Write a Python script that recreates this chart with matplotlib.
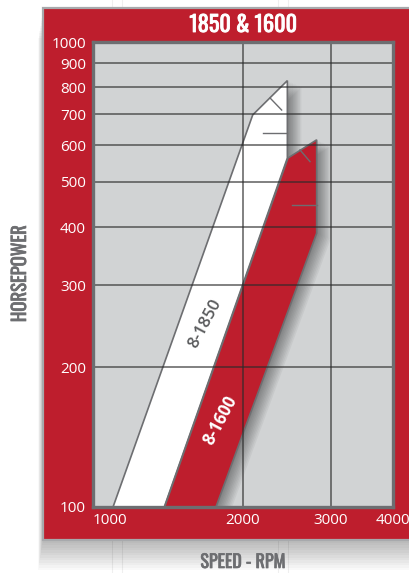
import matplotlib
matplotlib.use("Agg")
import matplotlib.pyplot as plt
from matplotlib import font_manager
from matplotlib import patheffects as pe
from matplotlib.patches import Rectangle
from matplotlib.lines import Line2D
from matplotlib.ticker import NullLocator
from matplotlib.transforms import offset_copy

# values (rpm / horsepower)
rpm_ticks = [1000, 2000, 3000, 4000]
rpm_grid = [2000, 3000]
hp_ticks = [100, 200, 300, 400, 500, 600, 700, 800, 900, 1000]

# outline of the 8-1850 band
band_1850_rpm = [1097, 2092, 2455, 2455, 1390]
band_1850_hp = [100, 697, 826, 563, 100]

# outline of the 8-1600 band
band_1600_rpm = [1392, 2462, 2811, 2811, 1765]
band_1600_hp = [100, 563, 616, 388, 100]

# little fold marks inside the bands
marks_rpm = [(2266, 2391), (2193, 2455), (2603, 2726), (2505, 2811)]
marks_hp = [(758, 714), (638, 638), (586, 553), (446, 446)]

label_1850 = ("8-1850", 1678, 248)
label_1600 = ("8-1600", 1798, 154)

RED = "#be1e2d"
PLOT_BG = "#d1d3d4"
DARK = "#6d6e71"

avail = {f.name for f in font_manager.fontManager.ttflist}
narrow = next(f for f in ["Oswald", "Barlow Condensed", "Asap Condensed",
                          "Archivo Narrow", "DejaVu Sans"] if f in avail)
body = "Open Sans" if "Open Sans" in avail else "DejaVu Sans"

W, H = 409, 573
fig = plt.figure(figsize=(W / 100, H / 100), dpi=100)


def fx(px):
    return px / W


def fy(py):
    return 1 - py / H


def heavy(color, w=0.5):
    # thicken the condensed face a little, like the bold headings
    return [pe.withStroke(linewidth=w, foreground=color)]


# faint page lines behind everything
for px in [112, 122, 278, 288]:
    fig.add_artist(Line2D([fx(px), fx(px)], [0, 1], transform=fig.transFigure,
                          color="#efefef", lw=0.8, zorder=-10))

# soft shadow under the red frame
for i in range(1, 13):
    fig.add_artist(Rectangle((fx(43 - i * 0.4), fy(540 + i * 2.5)),
                             fx(420), fy(8) - fy(540),
                             transform=fig.transFigure, facecolor="black",
                             alpha=0.025, lw=0, zorder=-5))

# red frame
fig.add_artist(Rectangle((fx(43), fy(540)), fx(420), fy(8) - fy(540),
                         transform=fig.transFigure, facecolor=RED,
                         edgecolor="#a7a9ac", lw=1.6, zorder=-4))

ax = fig.add_axes([fx(93), fy(507), fx(393) - fx(93), fy(42) - fy(507)])
ax.set_zorder(5)
ax.set_facecolor(PLOT_BG)
ax.set_xscale("log")
ax.set_yscale("log")
ax.set_xlim(1000, 4000)
ax.set_ylim(100, 1000)
for s in ax.spines.values():
    s.set_color(DARK)
    s.set_linewidth(2.4)
    s.set_zorder(20)

ax.xaxis.set_minor_locator(NullLocator())
ax.yaxis.set_minor_locator(NullLocator())
ax.set_xticks(rpm_ticks, labels=[str(v) for v in rpm_ticks])
ax.set_yticks(hp_ticks, labels=[str(v) for v in hp_ticks])
ax.tick_params(length=0, labelcolor="white", labelsize=11)
ax.tick_params(axis="y", pad=5)
ax.tick_params(axis="x", pad=4)
for t in ax.get_xticklabels() + ax.get_yticklabels():
    t.set_family(body)
ax.get_xticklabels()[0].set_ha("left")

# band shadows and bands
for rpm, hp, face, z in [(band_1850_rpm, band_1850_hp, "white", 3),
                         (band_1600_rpm, band_1600_hp, RED, 5)]:
    for i in range(1, 11):
        tr = offset_copy(ax.transData, fig=fig, x=i * 1.4, y=-i * 0.6, units="dots")
        ax.fill(rpm, hp, transform=tr, color="black", alpha=0.045, lw=0, zorder=z - 1)
    ax.fill(rpm, hp, facecolor=face, edgecolor=DARK, lw=1.2, zorder=z)

# grid drawn over the bands
for v in hp_ticks[1:-1]:
    ax.axhline(v, color="#2b2b2b", alpha=0.6, lw=1.4, zorder=8)
for v in rpm_grid:
    ax.axvline(v, color="#2b2b2b", alpha=0.6, lw=1.4, zorder=8)

for r, h in zip(marks_rpm, marks_hp):
    ax.plot(r, h, color=DARK, lw=1.0, zorder=9)

ax.text(label_1850[1], label_1850[2], label_1850[0], rotation=62,
        rotation_mode="anchor", ha="center", va="center", color="#58595b",
        fontsize=12, fontweight="semibold", family=body, zorder=10)
ax.text(label_1600[1], label_1600[2], label_1600[0], rotation=62,
        rotation_mode="anchor", ha="center", va="center", color="white",
        fontsize=12, fontweight="bold", family=body, zorder=10)

fig.text(fx(243), fy(25), "1850 & 1600", ha="center", va="center",
         color="white", fontsize=16, fontweight="bold", family=narrow,
         path_effects=heavy("white", 0.6))
fig.text(fx(20), fy(274), "HORSEPOWER", rotation=90, ha="center", va="center",
         color=DARK, fontsize=13.5, fontweight="bold", family=narrow,
         path_effects=heavy(DARK))
fig.text(fx(243), fy(562), "SPEED - RPM", ha="center", va="center",
         color=DARK, fontsize=13, fontweight="bold", family=narrow,
         path_effects=heavy(DARK))

fig.savefig("out.png", dpi=100)
